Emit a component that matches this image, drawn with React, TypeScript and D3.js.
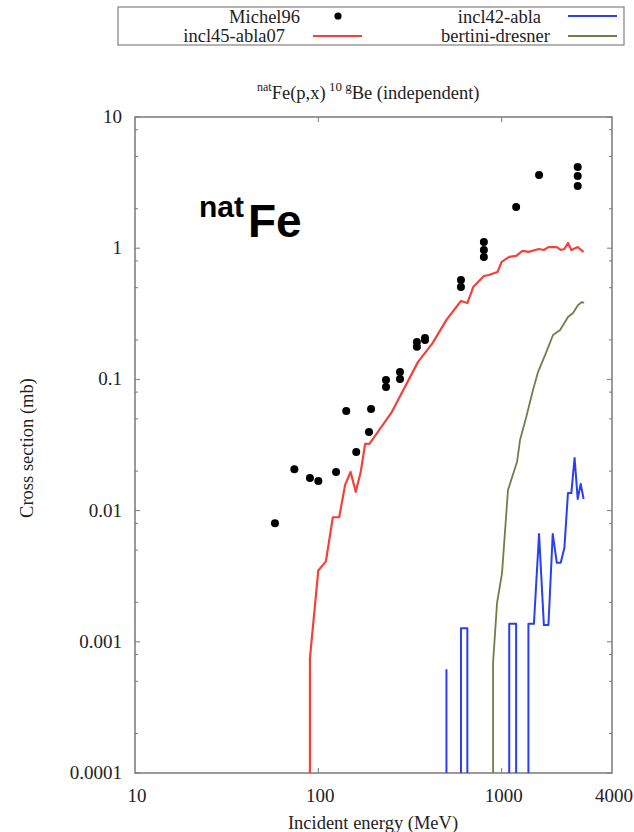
import React from "react";
import * as d3 from "d3";

// Experimental data: Michel96
const michelEnergy = [58, 74, 90, 100, 125, 142, 161, 189, 194, 234, 234, 279, 279, 345, 345, 382, 382, 600, 600, 800, 800, 800, 1200, 1600, 2600, 2600, 2600];
const michelXs = [0.008, 0.0207, 0.0177, 0.0168, 0.0197, 0.0574, 0.028, 0.0397, 0.0594, 0.099, 0.0875, 0.1138, 0.1007, 0.193, 0.177, 0.207, 0.2, 0.573, 0.506, 1.115, 0.968, 0.857, 2.06, 3.61, 4.16, 3.55, 2.98];

// incl45-abla07 (zero = below the log range)
const inclAbla07Energy = [80, 90, 100, 110, 120, 130, 140, 150, 160, 170, 180, 190, 250, 350, 420, 500, 600, 650, 700, 800, 850, 950, 1000, 1100, 1200, 1300, 1400, 1600, 1700, 1800, 2000, 2100, 2200, 2300, 2400, 2600, 2800];
const inclAbla07Xs = [0, 0.00075, 0.0035, 0.0041, 0.0089, 0.0089, 0.0157, 0.0197, 0.0139, 0.0194, 0.0322, 0.0322, 0.0555, 0.136, 0.189, 0.284, 0.396, 0.382, 0.506, 0.614, 0.625, 0.659, 0.786, 0.858, 0.873, 0.953, 0.937, 0.986, 0.969, 1.02, 1.02, 0.969, 0.986, 1.096, 0.969, 1.02, 0.935];

// incl42-abla
const inclAblaEnergy = [450, 500, 550, 600, 650, 700, 1000, 1100, 1200, 1300, 1400, 1500, 1600, 1700, 1800, 1900, 2000, 2100, 2200, 2300, 2400, 2500, 2600, 2700, 2800];
const inclAblaXs = [0, 0.00061, 0, 0.00127, 0.00127, 0, 0, 0.00137, 0.00137, 0, 0.00137, 0.00137, 0.00664, 0.00134, 0.00134, 0.00664, 0.004, 0.004, 0.0052, 0.0136, 0.0136, 0.0252, 0.01225, 0.016, 0.01225];

// bertini-dresner
const bertiniEnergy = [850, 898, 944, 1005, 1083, 1213, 1260, 1358, 1483, 1580, 1726, 1907, 2084, 2302, 2453, 2612, 2746, 2818];
const bertiniXs = [0, 0.00069, 0.00198, 0.00334, 0.01435, 0.02345, 0.0345, 0.0508, 0.083, 0.114, 0.153, 0.218, 0.238, 0.299, 0.321, 0.369, 0.389, 0.382];

const xTickValues = [10, 100, 1000, 4000];
const yTickValues = [10, 1, 0.1, 0.01, 0.001, 0.0001];
const yTickLabels = ["10", "1", "0.1", "0.01", "0.001", "0.0001"];
const minorFactors = [2, 5, 8];

const W = 634;
const H = 832;
const left = 135;
const right = 612;
const top = 117;
const bottom = 773;

const RED = "#f2423a";
const BLUE = "#2a3ff2";
const GREEN = "#6f7f48";
const FRAME = "#7a7a7a";
const SERIF = "'Liberation Serif', 'Times New Roman', serif";
const SANS = "'Liberation Sans', Arial, sans-serif";
const FS = 18.5;

const x = d3.scaleLog().domain([10, 4000]).range([left, right]);
const y = d3.scaleLog().domain([0.0001, 10]).range([bottom, top]);

// Line through the points; zero values drop vertically to the bottom of the frame.
function seriesPath(energy: number[], xs: number[]): string {
  const p = d3.path();
  let prevE: number | null = null;
  let prevPositive = false;
  let started = false;
  energy.forEach((e, i) => {
    const v = xs[i];
    if (v > 0) {
      const px = x(e);
      const py = y(v);
      if (!started || !prevPositive) {
        if (started || prevE !== null) {
          p.moveTo(px, bottom + 2);
          p.lineTo(px, py);
        } else {
          p.moveTo(px, py);
        }
      } else {
        p.lineTo(px, py);
      }
      started = true;
      prevPositive = true;
    } else {
      if (prevPositive && prevE !== null) {
        p.lineTo(x(prevE), bottom + 2);
      }
      prevPositive = false;
    }
    prevE = e;
  });
  return p.toString();
}

export default function App() {
  const yMinor: number[] = [];
  for (let dec = -4; dec < 1; dec++) {
    minorFactors.forEach((f) => yMinor.push(f * Math.pow(10, dec)));
  }

  return (
    <svg
      width={W}
      height={H}
      viewBox={`0 0 ${W} ${H}`}
      style={{ position: "absolute", left: 0, top: 0, background: "#fff" }}
    >
      <defs>
        <clipPath id="plotArea">
          <rect x={left} y={top} width={right - left} height={bottom - top} />
        </clipPath>
      </defs>

      {/* legend */}
      <rect x={118} y={7} width={506} height={38} fill="#fff" stroke="#8a8a8a" strokeWidth={1.3} />
      <g fontFamily={SERIF} fontSize={FS} fill="#222">
        <text x={300} y={23} textAnchor="end">Michel96</text>
        <text x={285} y={42} textAnchor="end">incl45-abla07</text>
        <text x={541} y={23} textAnchor="end">incl42-abla</text>
        <text x={550} y={42} textAnchor="end">bertini-dresner</text>
      </g>
      <circle cx={338} cy={16} r={3.6} fill="#000" />
      <line x1={313} x2={362} y1={36} y2={36} stroke={RED} strokeWidth={2} />
      <line x1={568} x2={617} y1={16} y2={16} stroke={BLUE} strokeWidth={2} />
      <line x1={568} x2={617} y1={36} y2={36} stroke={GREEN} strokeWidth={1.8} />

      {/* title */}
      <text x={257} y={99} fontFamily={SERIF} fontSize={FS} fill="#222">
        <tspan fontSize={12} dy={-8}>nat</tspan>
        <tspan dy={8}>Fe(p,x)</tspan>
        <tspan fontSize={13} dy={-8}> 10 </tspan>
        <tspan fontSize={13}>g</tspan>
        <tspan dy={8}>Be (independent)</tspan>
      </text>

      {/* element label */}
      <text fontFamily={SANS} fontWeight="bold" fill="#000">
        <tspan x={199} y={217} fontSize={30}>nat</tspan>
        <tspan x={248} y={237} fontSize={46}>Fe</tspan>
      </text>

      {/* frame */}
      <rect x={left} y={top} width={right - left} height={bottom - top} fill="none" stroke={FRAME} strokeWidth={1.5} />

      {/* y ticks */}
      {yTickValues.map((v) => (
        <g key={`ymaj${v}`}>
          <line x1={left} x2={left + 5} y1={y(v)} y2={y(v)} stroke={FRAME} strokeWidth={1} />
          <line x1={right} x2={right - 5} y1={y(v)} y2={y(v)} stroke={FRAME} strokeWidth={1} />
        </g>
      ))}
      {yMinor.map((v) => (
        <g key={`ymin${v}`}>
          <line x1={left} x2={left + 3} y1={y(v)} y2={y(v)} stroke={FRAME} strokeWidth={1} />
          <line x1={right} x2={right - 3} y1={y(v)} y2={y(v)} stroke={FRAME} strokeWidth={1} />
        </g>
      ))}
      {/* x ticks */}
      {xTickValues.slice(1, 3).map((v) => (
        <g key={`xmaj${v}`}>
          <line x1={x(v)} x2={x(v)} y1={bottom} y2={bottom - 5} stroke={FRAME} strokeWidth={1} />
          <line x1={x(v)} x2={x(v)} y1={top} y2={top + 5} stroke={FRAME} strokeWidth={1} />
        </g>
      ))}

      {/* tick labels */}
      <g fontFamily={SERIF} fontSize={19} fill="#222">
        {yTickValues.map((v, i) => (
          <text key={`yl${v}`} x={122} y={y(v) + 6} textAnchor="end">{yTickLabels[i]}</text>
        ))}
        {xTickValues.map((v) => (
          <text key={`xl${v}`} x={x(v) + 2} y={802} textAnchor="middle">{String(v)}</text>
        ))}
      </g>

      {/* axis titles */}
      <text x={373} y={829} fontFamily={SERIF} fontSize={FS} fill="#222" textAnchor="middle">
        Incident energy (MeV)
      </text>
      <text
        transform={`translate(33, ${448}) rotate(-90)`}
        fontFamily={SERIF}
        fontSize={FS}
        fill="#222"
        textAnchor="middle"
      >
        Cross section (mb)
      </text>

      {/* model curves */}
      <g clipPath="url(#plotArea)" fill="none" strokeLinejoin="round">
        <path d={seriesPath(bertiniEnergy, bertiniXs)} stroke={GREEN} strokeWidth={1.8} />
        <path d={seriesPath(inclAblaEnergy, inclAblaXs)} stroke={BLUE} strokeWidth={2} />
        <path d={seriesPath(inclAbla07Energy, inclAbla07Xs)} stroke={RED} strokeWidth={2.2} />
      </g>

      {/* data points */}
      <g clipPath="url(#plotArea)">
        {michelEnergy.map((e, i) => (
          <circle key={`m${i}`} cx={x(e)} cy={y(michelXs[i])} r={4} fill="#000" />
        ))}
      </g>
    </svg>
  );
}
